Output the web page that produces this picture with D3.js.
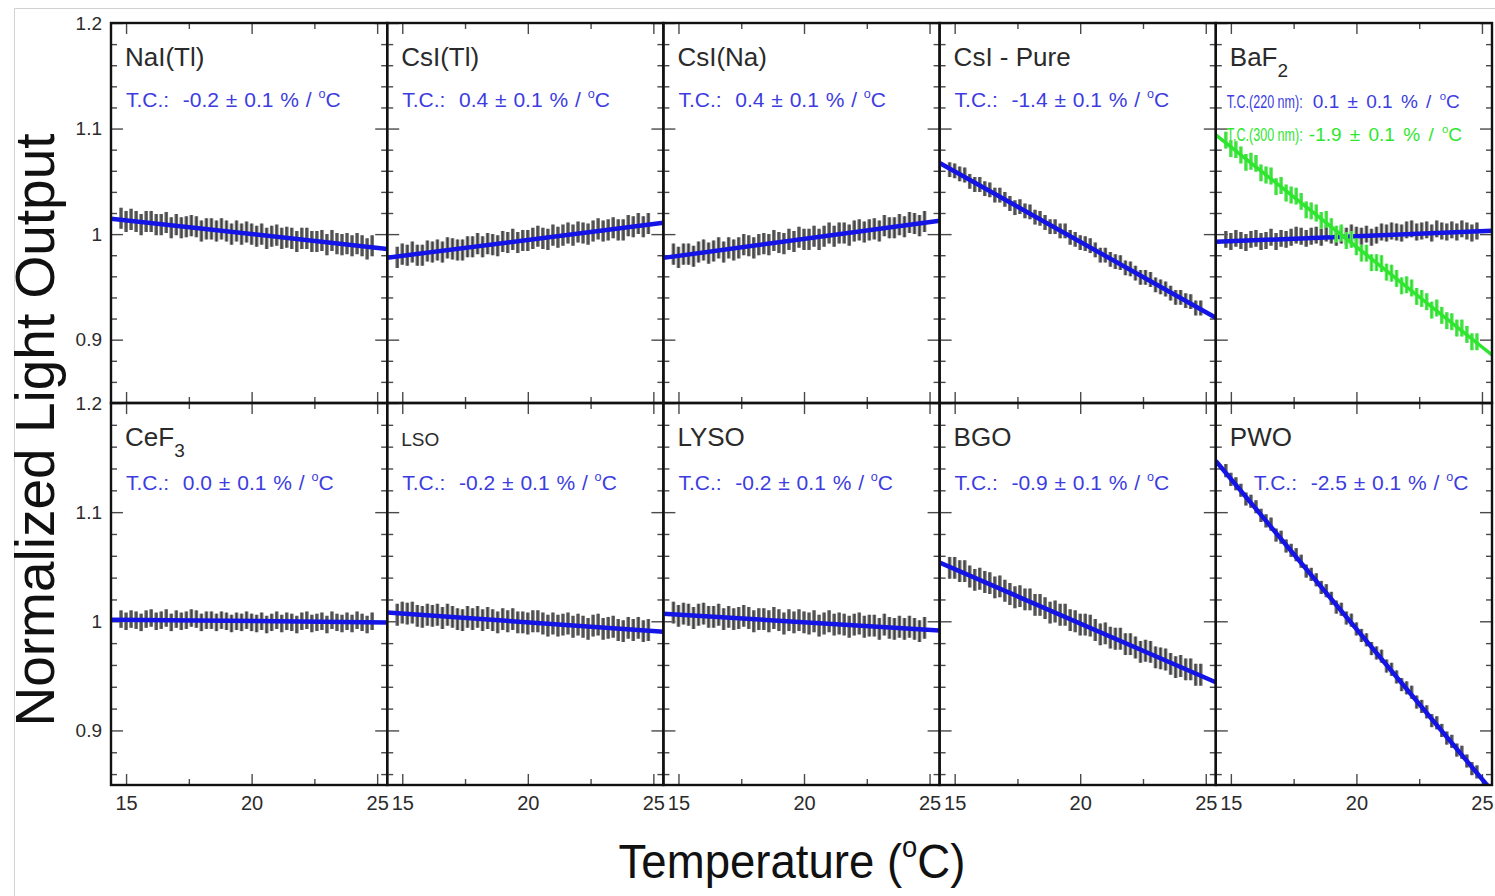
<!DOCTYPE html>
<html>
<head>
<meta charset="utf-8">
<script src="https://cdn.jsdelivr.net/npm/d3@7"></script>
<style>
  body { margin: 0; background: #fff; }
  text { font-family: 'Liberation Sans', Arial, sans-serif; }
</style>
</head>
<body>
<div id="chart"></div>
<script>
// temperature of each measurement (deg C)
const temperatures = [14.8, 15.0, 15.2, 15.4, 15.6, 15.8, 16.0, 16.2, 16.4, 16.6,
    16.8, 17.0, 17.2, 17.4, 17.6, 17.8, 18.0, 18.2, 18.4, 18.6,
    18.8, 19.0, 19.2, 19.4, 19.6, 19.8, 20.0, 20.2, 20.4, 20.6,
    20.8, 21.0, 21.2, 21.4, 21.6, 21.8, 22.0, 22.2, 22.4, 22.6,
    22.8, 23.0, 23.2, 23.4, 23.6, 23.8, 24.0, 24.2, 24.4, 24.6,
    24.8];

// normalized light output, one list per crystal
const naiTl = [1.015, 1.012, 1.014, 1.012, 1.009, 1.012, 1.012, 1.009, 1.009, 1.011,
    1.006, 1.009, 1.006, 1.007, 1.008, 1.007, 1.003, 1.005, 1.005, 1.003,
    1.005, 1.003, 1.000, 1.003, 1.000, 1.002, 1.000, 0.998, 1.000, 0.996,
    0.998, 0.999, 0.996, 0.997, 0.996, 0.993, 0.996, 0.996, 0.993, 0.993,
    0.994, 0.990, 0.994, 0.991, 0.990, 0.991, 0.989, 0.991, 0.989, 0.986,
    0.989];
const csiTl = [0.978, 0.981, 0.980, 0.983, 0.980, 0.980, 0.984, 0.983, 0.985, 0.983,
    0.987, 0.986, 0.985, 0.985, 0.988, 0.988, 0.991, 0.988, 0.991, 0.990,
    0.989, 0.993, 0.992, 0.995, 0.992, 0.994, 0.994, 0.996, 0.998, 0.996,
    0.995, 0.999, 0.997, 0.999, 1.001, 0.999, 1.002, 1.001, 1.000, 1.003,
    1.005, 1.003, 1.004, 1.006, 1.004, 1.004, 1.008, 1.007, 1.010, 1.007,
    1.010];
const csiNa = [0.981, 0.978, 0.981, 0.981, 0.979, 0.983, 0.985, 0.982, 0.984, 0.987,
    0.983, 0.987, 0.985, 0.987, 0.990, 0.989, 0.987, 0.990, 0.991, 0.990,
    0.994, 0.992, 0.991, 0.995, 0.993, 0.997, 0.995, 0.995, 0.998, 0.995,
    0.998, 1.001, 0.998, 1.001, 1.001, 0.999, 1.003, 1.004, 1.002, 1.004,
    1.005, 1.003, 1.008, 1.006, 1.006, 1.009, 1.007, 1.011, 1.010, 1.008,
    1.012];
const csiPure = [1.061, 1.060, 1.057, 1.056, 1.050, 1.047, 1.047, 1.043, 1.042, 1.037,
    1.037, 1.033, 1.029, 1.025, 1.026, 1.022, 1.021, 1.016, 1.015, 1.011,
    1.007, 1.007, 1.003, 1.003, 0.997, 0.995, 0.992, 0.991, 0.989, 0.985,
    0.980, 0.980, 0.976, 0.974, 0.973, 0.968, 0.967, 0.963, 0.959, 0.959,
    0.957, 0.952, 0.950, 0.948, 0.944, 0.940, 0.940, 0.937, 0.936, 0.930,
    0.930];
const baf2Fast = [0.995, 0.993, 0.996, 0.994, 0.992, 0.995, 0.996, 0.993, 0.994, 0.997,
    0.993, 0.996, 0.995, 0.997, 0.999, 0.998, 0.996, 0.998, 0.999, 0.997,
    1.001, 0.999, 0.997, 0.999, 0.998, 1.001, 0.999, 0.998, 1.000, 0.997,
    0.999, 1.002, 1.001, 1.003, 1.002, 1.001, 1.004, 1.005, 1.002, 1.003,
    1.004, 1.001, 1.005, 1.003, 1.002, 1.004, 1.002, 1.005, 1.003, 1.001,
    1.003];
const baf2Slow = [1.089, 1.081, 1.080, 1.075, 1.068, 1.069, 1.067, 1.058, 1.056, 1.055,
    1.045, 1.046, 1.039, 1.037, 1.036, 1.031, 1.023, 1.022, 1.020, 1.013,
    1.014, 1.007, 1.000, 1.001, 0.994, 0.995, 0.988, 0.982, 0.982, 0.973,
    0.973, 0.972, 0.964, 0.963, 0.958, 0.951, 0.952, 0.949, 0.941, 0.939,
    0.936, 0.928, 0.930, 0.923, 0.918, 0.917, 0.911, 0.911, 0.905, 0.898,
    0.898];
const cef3 = [1.002, 1.000, 1.002, 1.001, 0.999, 1.002, 1.003, 1.000, 1.001, 1.003,
    0.999, 1.002, 1.000, 1.001, 1.003, 1.002, 0.999, 1.001, 1.001, 0.999,
    1.001, 1.000, 0.998, 1.000, 0.999, 1.001, 0.999, 0.998, 1.000, 0.997,
    0.999, 1.001, 0.998, 1.000, 0.999, 0.997, 1.000, 1.001, 0.998, 0.999,
    1.000, 0.997, 1.001, 0.999, 0.998, 1.000, 0.998, 1.001, 0.999, 0.997,
    1.000];
const lso = [1.006, 1.008, 1.007, 1.008, 1.005, 1.004, 1.006, 1.005, 1.006, 1.003,
    1.006, 1.004, 1.002, 1.001, 1.004, 1.002, 1.004, 1.001, 1.003, 1.001,
    0.999, 1.002, 1.000, 1.002, 0.999, 0.999, 0.998, 1.000, 1.000, 0.998,
    0.996, 0.998, 0.996, 0.997, 0.998, 0.995, 0.997, 0.995, 0.993, 0.996,
    0.997, 0.993, 0.994, 0.995, 0.992, 0.991, 0.994, 0.992, 0.994, 0.991,
    0.992];
const lyso = [1.008, 1.005, 1.007, 1.006, 1.003, 1.006, 1.007, 1.004, 1.004, 1.006,
    1.002, 1.004, 1.002, 1.003, 1.005, 1.003, 1.000, 1.002, 1.002, 1.000,
    1.003, 1.001, 0.998, 1.001, 0.999, 1.001, 0.999, 0.998, 1.000, 0.996,
    0.998, 1.000, 0.997, 0.998, 0.997, 0.995, 0.997, 0.998, 0.995, 0.996,
    0.996, 0.993, 0.997, 0.994, 0.993, 0.995, 0.993, 0.995, 0.993, 0.991,
    0.994];
const bgo = [1.049, 1.049, 1.046, 1.046, 1.041, 1.038, 1.039, 1.036, 1.035, 1.031,
    1.032, 1.028, 1.025, 1.022, 1.023, 1.020, 1.020, 1.015, 1.015, 1.012,
    1.008, 1.009, 1.006, 1.006, 1.001, 1.000, 0.997, 0.997, 0.996, 0.992,
    0.988, 0.989, 0.985, 0.984, 0.984, 0.979, 0.979, 0.976, 0.972, 0.973,
    0.972, 0.967, 0.966, 0.965, 0.961, 0.958, 0.959, 0.956, 0.956, 0.951,
    0.951];
const pwo = [1.138, 1.130, 1.126, 1.120, 1.112, 1.110, 1.105, 1.097, 1.092, 1.089,
    1.079, 1.077, 1.069, 1.065, 1.061, 1.055, 1.046, 1.043, 1.038, 1.031,
    1.028, 1.021, 1.013, 1.011, 1.003, 1.001, 0.993, 0.987, 0.983, 0.975,
    0.971, 0.968, 0.959, 0.956, 0.949, 0.942, 0.939, 0.935, 0.926, 0.922,
    0.917, 0.909, 0.907, 0.900, 0.893, 0.890, 0.882, 0.880, 0.872, 0.865,
    0.862];

const seriesValues = [naiTl, csiTl, csiNa, csiPure, baf2Fast, baf2Slow, cef3, lso, lyso, bgo, pwo];
const seriesErrors = [0.010, 0.010, 0.010, 0.007, 0.008, 0.008, 0.008, 0.010, 0.010, 0.010, 0.006];
// linear fit, value at left and right edge of the frame
const fitAtLeft = [1.0146, 0.9777, 0.9775, 1.0674, 0.9927, 1.0940, 1.0015, 1.0080, 1.0070, 1.0538, 1.1470];
const fitAtRight = [0.9860, 1.0107, 1.0127, 0.9207, 1.0031, 0.8856, 0.9990, 0.9904, 0.9916, 0.9441, 0.8445];

const panelTitles = ['NaI(Tl)', 'CsI(Tl)', 'CsI(Na)', 'CsI - Pure', 'BaF', 'CeF', 'LSO', 'LYSO', 'BGO', 'PWO'];
const panelTitleSubs = ['', '', '', '', '2', '3', '', '', '', ''];
const panelSeries = [[0], [1], [2], [3], [4, 5], [6], [7], [8], [9], [10]];
const tcValues = ['-0.2', '0.4', '0.4', '-1.4', '0.1', '0.0', '-0.2', '-0.2', '-0.9', '-2.5'];
const tcBaF2Slow = '-1.9';

const xDomain = [14.4, 25.4];
const xMajor = [15, 20, 25];
const xMinor = [17.5, 22.5];
const rowDomains = [[0.84, 1.2], [0.85, 1.2]];
const yMajor = [0.9, 1.0, 1.1, 1.2];
const yTickLabels = ['0.9', '1', '1.1', '1.2'];
const yMinor = [0.86, 0.88, 0.92, 0.94, 0.96, 0.98, 1.02, 1.04, 1.06, 1.08, 1.12, 1.14, 1.16, 1.18];

const width = 1495, height = 896;
const plotLeft = 111, plotRight = 1492;
const rowTop = [23, 403], rowBottom = [403, 785];
const blue = '#1414e6', textBlue = '#3c3ce0', green = '#2ee62e';

const svg = d3.select('#chart').append('svg')
    .attr('width', width)
    .attr('height', height);

svg.append('path')
    .attr('d', `M14.5,${height} V8.5 H${width}`)
    .attr('fill', 'none')
    .attr('stroke', '#d2d2d2');

const col = d3.scaleBand()
    .domain(d3.range(5))
    .range([plotLeft, plotRight]);

const x = d3.scaleLinear().domain(xDomain).range([0, col.bandwidth()]);

const addSup = (t, size, sup) => {
    t.append('tspan').attr('font-size', size * 0.6).attr('dy', -size * 0.42).text(sup);
    return t.append('tspan').attr('dy', size * 0.42);
};

const styleTicks = sel => {
    sel.select('.domain').remove();
    sel.selectAll('line').attr('stroke', '#4a4a4a').attr('stroke-width', 1.4);
    sel.selectAll('text')
        .attr('fill', '#2b2b2b')
        .style('font-family', "'Liberation Sans', Arial, sans-serif");
};

panelTitles.forEach((title, p) => {
    const r = Math.floor(p / 5), c = p % 5;
    const h = rowBottom[r] - rowTop[r];
    const w = col.bandwidth();
    const y = d3.scaleLinear().domain(rowDomains[r]).range([h, 0]);
    const minorY = yMinor.filter(v => v > rowDomains[r][0]);

    const g = svg.append('g')
        .attr('transform', `translate(${col(c)}, ${rowTop[r]})`);

    g.append('clipPath')
        .attr('id', `clip-${p}`)
        .append('rect')
        .attr('width', w)
        .attr('height', h);

    // ticks on all four sides, pointing inwards
    g.append('g')
        .call(d3.axisLeft(y).tickValues(yMajor).tickSize(-12).tickPadding(9)
            .tickFormat((d, i) => c === 0 ? yTickLabels[i] : ''))
        .call(styleTicks)
        .attr('font-size', 19);
    g.append('g')
        .call(d3.axisLeft(y).tickValues(minorY).tickSize(-6).tickFormat(''))
        .call(styleTicks);
    g.append('g')
        .attr('transform', `translate(${w}, 0)`)
        .call(d3.axisRight(y).tickValues(yMajor).tickSize(-12).tickFormat(''))
        .call(styleTicks);
    g.append('g')
        .attr('transform', `translate(${w}, 0)`)
        .call(d3.axisRight(y).tickValues(minorY).tickSize(-6).tickFormat(''))
        .call(styleTicks);
    g.append('g')
        .call(d3.axisTop(x).tickValues(xMajor).tickSize(-11).tickFormat(''))
        .call(styleTicks);
    g.append('g')
        .call(d3.axisTop(x).tickValues(xMinor).tickSize(-6).tickFormat(''))
        .call(styleTicks);
    g.append('g')
        .attr('transform', `translate(0, ${h})`)
        .call(d3.axisBottom(x).tickValues(xMajor).tickSize(-11).tickPadding(11)
            .tickFormat(d => r === 1 ? d : ''))
        .call(styleTicks)
        .attr('font-size', 20);
    g.append('g')
        .attr('transform', `translate(0, ${h})`)
        .call(d3.axisBottom(x).tickValues(xMinor).tickSize(-6).tickFormat(''))
        .call(styleTicks);

    const inner = g.append('g').attr('clip-path', `url(#clip-${p})`);

    // crystal name
    const titleSize = title === 'LSO' ? 19 : 26;
    const tt = inner.append('text')
        .attr('x', 14)
        .attr('y', 43)
        .attr('font-size', titleSize)
        .attr('fill', '#2a2a2a')
        .text(title);
    if (panelTitleSubs[p])
        tt.append('tspan').attr('font-size', 19).attr('dy', 11).text(panelTitleSubs[p]);

    // temperature coefficient
    if (title === 'BaF') {
        [[tcValues[p], textBlue, 85], [tcBaF2Slow, green, 118]].forEach(([val, color, ty]) => {
            inner.append('text')
                .attr('transform', `translate(11, ${ty}) scale(0.66, 1)`)
                .attr('font-size', 19)
                .attr('fill', color)
                .text('T.C.(' + (color === green ? '300' : '220') + ' nm):');
            const t = inner.append('text')
                .attr('x', val.startsWith('-') ? 93 : 97)
                .attr('y', ty)
                .attr('font-size', 19)
                .attr('fill', color)
                .style('white-space', 'pre')
                .style('word-spacing', '3px')
                .text(`${val} ± 0.1 % / `);
            addSup(t, 19, 'o').text('C');
        });
    } else {
        const t = inner.append('text')
            .attr('x', title === 'PWO' ? 38 : 15)
            .attr('y', r === 0 ? 84 : 87)
            .attr('font-size', 21)
            .attr('fill', textBlue)
            .style('white-space', 'pre')
            .style('word-spacing', '1px')
            .text(`T.C.:  ${tcValues[p]} ± 0.1 % / `);
        addSup(t, 21, 'o').text('C');
    }

    // error bars and fit line of each series
    panelSeries[p].forEach(s => {
        const isGreen = s === 5;
        const pts = temperatures.map((T, i) => ({ T, v: seriesValues[s][i], e: seriesErrors[s] }));

        inner.append('g')
            .selectAll('line')
            .data(pts)
            .join('line')
            .attr('x1', d => x(d.T))
            .attr('x2', d => x(d.T))
            .attr('y1', d => y(d.v - d.e))
            .attr('y2', d => y(d.v + d.e))
            .attr('stroke', isGreen ? '#55ea55' : '#6c6c6c')
            .attr('stroke-width', 3.6);

        inner.append('g')
            .selectAll('line')
            .data(pts)
            .join('line')
            .attr('x1', d => x(d.T))
            .attr('x2', d => x(d.T))
            .attr('y1', d => y(d.v - d.e))
            .attr('y2', d => y(d.v + d.e))
            .attr('stroke', isGreen ? '#18c818' : '#1e1e1e')
            .attr('stroke-width', 1)
            .attr('opacity', 0.6);

        inner.append('path')
            .datum([[xDomain[0], fitAtLeft[s]], [xDomain[1], fitAtRight[s]]])
            .attr('d', d3.line().x(d => x(d[0])).y(d => y(d[1])))
            .attr('fill', 'none')
            .attr('stroke', isGreen ? green : blue)
            .attr('stroke-width', isGreen ? 3.5 : 4.5);
    });

    g.append('rect')
        .attr('width', w)
        .attr('height', h)
        .attr('fill', 'none')
        .attr('stroke', '#111')
        .attr('stroke-width', 2.4);
});

svg.append('text')
    .attr('transform', 'translate(54, 430) rotate(-90)')
    .attr('text-anchor', 'middle')
    .attr('font-size', 55)
    .attr('fill', '#111')
    .text('Normalized Light Output');

const xt = svg.append('text')
    .attr('transform', 'translate(792, 878) scale(0.93, 1)')
    .attr('text-anchor', 'middle')
    .attr('font-size', 49)
    .attr('fill', '#111')
    .text('Temperature (');
addSup(xt, 49, 'o').text('C)');
</script>
</body>
</html>
